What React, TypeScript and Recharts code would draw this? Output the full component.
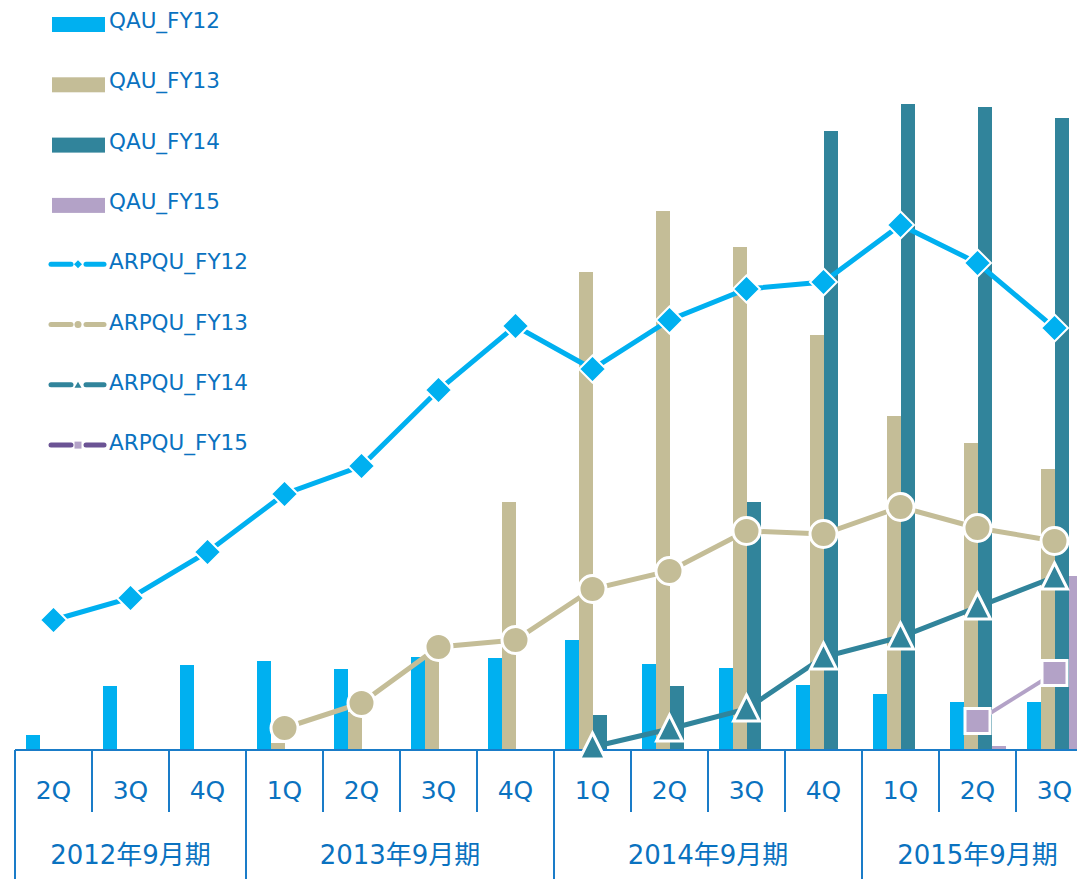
import { Bar, ComposedChart, Line, XAxis, YAxis } from "recharts";

// fiscal periods and quarter ticks
const fiscalYears = ["2012年9月期", "2013年9月期", "2014年9月期", "2015年9月期"];
const quarterLabels = ["2Q", "3Q", "4Q", "1Q", "2Q", "3Q", "4Q", "1Q", "2Q", "3Q", "4Q", "1Q", "2Q", "3Q"];
const quarterYear = [0, 0, 0, 1, 1, 1, 1, 2, 2, 2, 2, 3, 3, 3];

// quarterly active users by cohort
const qauFY12 = [15, 64, 85, 89, 81, 93, 92, 110, 86, 82, 65, 56, 48, 48];
const qauFY13 = [null, null, null, 7, 38, 95, 248, 478, 539, 503, 415, 334, 307, 281];
const qauFY14 = [null, null, null, null, null, null, null, 35, 64, 248, 619, 646, 643, 632];
const qauFY15 = [null, null, null, null, null, null, null, null, null, null, null, null, 4, 174];

// revenue per quarterly user by cohort
const arpquFY12 = [130, 152, 198, 256, 284, 360, 424, 381, 430, 461, 468, 525, 487, 422];
const arpquFY13 = [null, null, null, 22, 47, 103, 110, 161, 179, 219, 216, 243, 222, 209];
const arpquFY14 = [null, null, null, null, null, null, null, 3, 21, 41, 93, 113, 143, 173];
const arpquFY15 = [null, null, null, null, null, null, null, null, null, null, null, null, 29, 77];

const CYAN = "#00b0f0";
const TAN = "#c4bd97";
const TEAL = "#31849b";
const LAVENDER = "#b3a2c7";
const PURPLE = "#6b5394";
const TEXT_BLUE = "#0a72c0";
const AXIS_BLUE = "#1a7cc8";
const FONT = '"DejaVu Sans", "Noto Sans CJK JP", sans-serif';

const CHART_W = 1093;
const CHART_H = 879;
const MARGIN = { top: 100, right: 0, left: 15, bottom: 0 };
const AXIS_H = 129;
const AXIS_Y = CHART_H - AXIS_H;
const BAND = (CHART_W - MARGIN.left - MARGIN.right) / quarterLabels.length;

const rows = quarterLabels.map((_, i) => ({
  key: String(i),
  qauFY12: qauFY12[i],
  qauFY13: qauFY13[i],
  qauFY14: qauFY14[i],
  qauFY15: qauFY15[i],
  arpquFY12: arpquFY12[i],
  arpquFY13: arpquFY13[i],
  arpquFY14: arpquFY14[i],
  arpquFY15: arpquFY15[i],
}));

function PeriodTick(props: any) {
  const { x, payload } = props;
  const i = Number(payload.value);
  const left = x - BAND / 2;
  const year = quarterYear[i];
  const yearStart = i === 0 || quarterYear[i - 1] !== year;
  const span = quarterYear.filter((y) => y === year).length;
  return (
    <g>
      <line x1={left} x2={left} y1={AXIS_Y} y2={yearStart ? CHART_H : AXIS_Y + 62} stroke={AXIS_BLUE} strokeWidth={2} />
      {i === quarterLabels.length - 1 && (
        <line x1={x + BAND / 2} x2={x + BAND / 2} y1={AXIS_Y} y2={CHART_H} stroke={AXIS_BLUE} strokeWidth={2} />
      )}
      <text x={x} y={AXIS_Y + 49} textAnchor="middle" fill={TEXT_BLUE} fontSize={25} fontFamily={FONT}>
        {quarterLabels[i]}
      </text>
      {yearStart && (
        <text x={left + (span * BAND) / 2} y={AXIS_Y + 114} textAnchor="middle" fill={TEXT_BLUE} fontSize={26} fontFamily={FONT}>
          {fiscalYears[year]}
        </text>
      )}
    </g>
  );
}

function empty(p: any) {
  return p.cx == null || p.cy == null || p.value == null;
}

const diamondDot = (p: any) => {
  if (empty(p)) return <g key={p.key} />;
  const { cx, cy } = p;
  const r = 13.5;
  return <path key={p.key} d={`M${cx},${cy - r}L${cx + r},${cy}L${cx},${cy + r}L${cx - r},${cy}Z`} fill={CYAN} stroke="#fff" strokeWidth={2} />;
};

const circleDot = (p: any) => {
  if (empty(p)) return <g key={p.key} />;
  return <circle key={p.key} cx={p.cx} cy={p.cy} r={13.5} fill={TAN} stroke="#fff" strokeWidth={3} />;
};

const triangleDot = (p: any) => {
  if (empty(p)) return <g key={p.key} />;
  const { cx, cy } = p;
  return <path key={p.key} d={`M${cx},${cy - 14}L${cx + 13},${cy + 12}L${cx - 13},${cy + 12}Z`} fill={TEAL} stroke="#fff" strokeWidth={3} />;
};

const squareDot = (p: any) => {
  if (empty(p)) return <g key={p.key} />;
  return <rect key={p.key} x={p.cx - 12.5} y={p.cy - 12.5} width={25} height={25} fill={LAVENDER} stroke="#fff" strokeWidth={3} />;
};

type LegendEntry = { name: string; color: string; marker?: string; markerColor?: string };

const legendEntries: LegendEntry[] = [
  { name: "QAU_FY12", color: CYAN },
  { name: "QAU_FY13", color: TAN },
  { name: "QAU_FY14", color: TEAL },
  { name: "QAU_FY15", color: LAVENDER },
  { name: "ARPQU_FY12", color: CYAN, marker: "diamond", markerColor: CYAN },
  { name: "ARPQU_FY13", color: TAN, marker: "circle", markerColor: TAN },
  { name: "ARPQU_FY14", color: TEAL, marker: "triangle", markerColor: TEAL },
  { name: "ARPQU_FY15", color: PURPLE, marker: "square", markerColor: LAVENDER },
];

function LegendIcon({ entry, y }: { entry: LegendEntry; y: number }) {
  if (!entry.marker) return <rect x={52} y={y - 7.5} width={53} height={15} fill={entry.color} />;
  const m = 78;
  const my = y;
  let mark = null;
  if (entry.marker === "diamond") mark = <path d={`M${m},${my - 4}L${m + 4},${my}L${m},${my + 4}L${m - 4},${my}Z`} fill={entry.markerColor} />;
  if (entry.marker === "circle") mark = <circle cx={m} cy={my} r={3.5} fill={entry.markerColor} />;
  if (entry.marker === "triangle") mark = <path d={`M${m},${my - 3}L${m + 3.5},${my + 3}L${m - 3.5},${my + 3}Z`} fill={entry.markerColor} />;
  if (entry.marker === "square") mark = <rect x={m - 3.5} y={my - 3.5} width={7} height={7} fill={entry.markerColor} />;
  return (
    <g>
      <line x1={51} x2={71} y1={y} y2={y} stroke={entry.color} strokeWidth={5} strokeLinecap="round" />
      <line x1={86} x2={104} y1={y} y2={y} stroke={entry.color} strokeWidth={5} strokeLinecap="round" />
      {mark}
    </g>
  );
}

function ChartLegend() {
  return (
    <svg width={300} height={470} style={{ position: "absolute", left: 0, top: 0 }}>
      {legendEntries.map((e, i) => {
        const rowY = 60.3 * i;
        return (
          <g key={e.name}>
            <LegendIcon entry={e} y={rowY + (e.marker ? 23 : 24.5)} />
            <text x={109} y={rowY + 28} fill={TEXT_BLUE} fontSize={21.5} fontFamily={FONT}>
              {e.name}
            </text>
          </g>
        );
      })}
    </svg>
  );
}

export default function App() {
  return (
    <div style={{ position: "absolute", left: 0, top: 0, width: 1077, height: 879, overflow: "hidden", background: "#fff" }}>
      <ComposedChart width={CHART_W} height={CHART_H} data={rows} margin={MARGIN} barGap={0} barSize={14} style={{ fontFamily: FONT }}>
        <XAxis
          dataKey="key"
          interval={0}
          height={AXIS_H}
          tickLine={false}
          axisLine={{ stroke: AXIS_BLUE, strokeWidth: 2 }}
          tick={(p: any) => <PeriodTick {...p} />}
        />
        <YAxis yAxisId="qau" hide domain={[0, 650]} />
        <YAxis yAxisId="arpqu" hide orientation="right" domain={[0, 650]} />
        <Bar yAxisId="qau" dataKey="qauFY12" name="QAU_FY12" fill={CYAN} isAnimationActive={false} />
        <Bar yAxisId="qau" dataKey="qauFY13" name="QAU_FY13" fill={TAN} isAnimationActive={false} />
        <Bar yAxisId="qau" dataKey="qauFY14" name="QAU_FY14" fill={TEAL} isAnimationActive={false} />
        <Bar yAxisId="qau" dataKey="qauFY15" name="QAU_FY15" fill={LAVENDER} isAnimationActive={false} />
        <Line yAxisId="arpqu" dataKey="arpquFY12" name="ARPQU_FY12" stroke={CYAN} strokeWidth={5} dot={diamondDot} activeDot={false} isAnimationActive={false} />
        <Line yAxisId="arpqu" dataKey="arpquFY13" name="ARPQU_FY13" stroke={TAN} strokeWidth={5} dot={circleDot} activeDot={false} isAnimationActive={false} />
        <Line yAxisId="arpqu" dataKey="arpquFY14" name="ARPQU_FY14" stroke={TEAL} strokeWidth={5} dot={triangleDot} activeDot={false} isAnimationActive={false} />
        <Line yAxisId="arpqu" dataKey="arpquFY15" name="ARPQU_FY15" stroke={LAVENDER} strokeWidth={4} dot={squareDot} activeDot={false} isAnimationActive={false} />
      </ComposedChart>
      <ChartLegend />
    </div>
  );
}
